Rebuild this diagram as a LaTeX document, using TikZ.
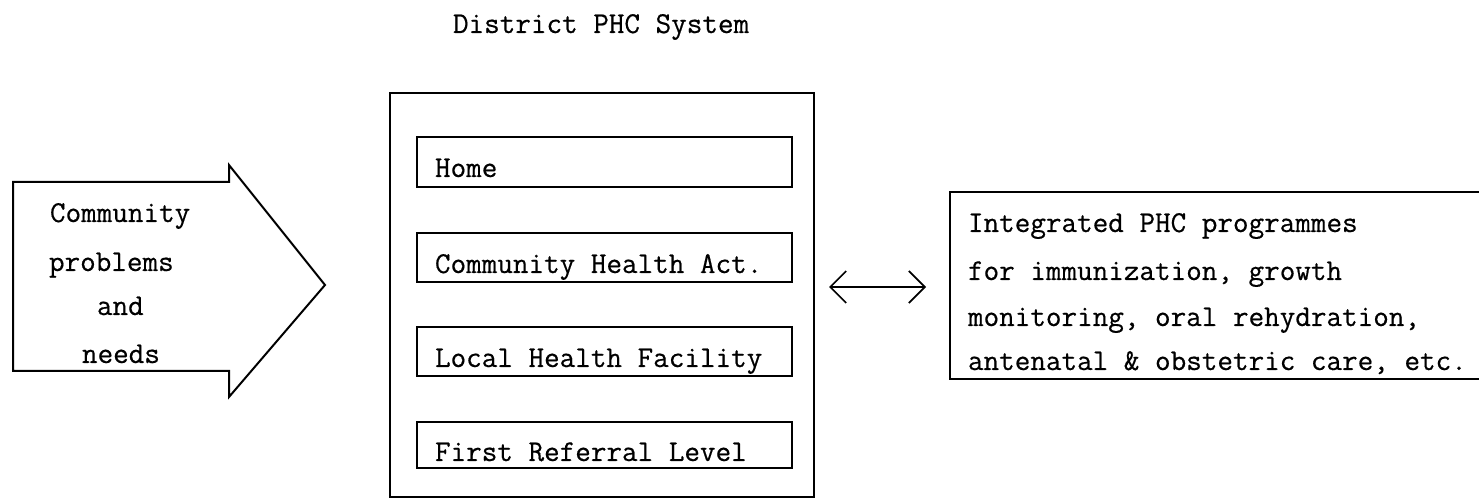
\documentclass[tikz,border=0pt]{standalone}
\usepackage{fontspec}
\setmonofont[FakeBold=0.5]{Latin Modern Mono}
\usetikzlibrary{arrows.meta}
\begin{document}
\begin{tikzpicture}[x=0.75pt,y=-0.75pt,
  line width=1.5pt, line join=miter,
  txt/.style={anchor=base west, inner sep=0pt, outer sep=0pt,
    font=\ttfamily\fontsize{22.7}{27}\selectfont},
  level/.style={draw, line width=1.5pt},
  dbl/.style={{Straight Barb[length=12pt,width=24pt,line width=1.3pt]}-{Straight Barb[length=12pt,width=24pt,line width=1.3pt]}, line width=1.3pt}]
\useasboundingbox (0,0) rectangle (1479,498);

% title
\node[txt] (title) at (453,33) {District PHC System};

% block arrow: community problems and needs
\draw (13,182) -- (229,182) -- (229,165) -- (325,285) -- (229,397)
      -- (229,371) -- (13,371) -- cycle;
\node[txt] (c1) at (50,222) {Community};
\node[txt] (c2) at (49,271) {problems};
\node[txt] (c3) at (97,315) {and};
\node[txt] (c4) at (82,363) {needs};

% district system frame with its four levels
\draw (390,93) rectangle (814,497);
\draw[level] (417,137) rectangle (792,187);
\draw[level] (417,233) rectangle (792,282);
\draw[level] (417,327) rectangle (792,376);
\draw[level] (417,422) rectangle (792,468);
\node[txt] (l1) at (435,177) {Home};
\node[txt] (l2) at (435,273) {Community Health Act.};
\node[txt] (l3) at (435,367) {Local Health Facility};
\node[txt] (l4) at (435,461) {First Referral Level};

% two-way link
\coordinate (dl) at (829,287);
\coordinate (dr) at (926,287);
\draw[dbl] (dl) -- (dr);

% integrated programmes box (open on the right)
\draw (1479,192) -- (950,192) -- (950,379) -- (1479,379);
\node[txt] (p1) at (968,232) {Integrated PHC programmes};
\node[txt] (p2) at (968,280) {for immunization, growth};
\node[txt] (p3) at (968,326) {monitoring, oral rehydration,};
\node[txt] (p4) at (968,370) {antenatal \& obstetric care, etc.};
\end{tikzpicture}
\end{document}
